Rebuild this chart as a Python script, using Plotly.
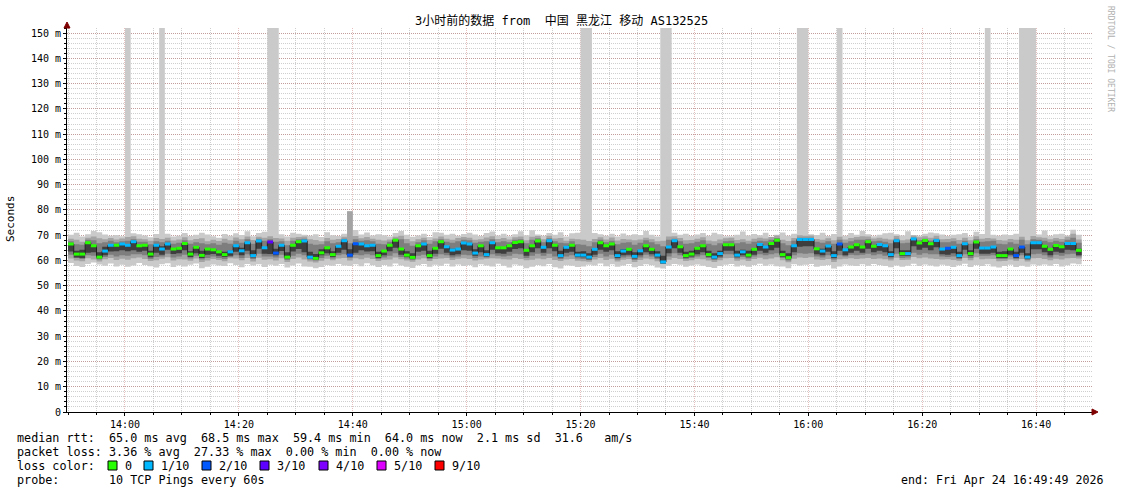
import plotly.graph_objects as go
from datetime import datetime, timedelta

# ---------------- data (one value per 60 s step, starting 13:50) ----------------
median = [
    66.5, 62.5, 62.5, 67.0, 65.8, 61.3, 63.7, 66.0, 66.0, 66.5,
    66.0, 67.4, 65.8, 66.0, 62.5, 66.0, 64.5, 66.5, 64.5, 64.8,
    66.7, 62.5, 65.2, 62.0, 64.5, 64.2, 63.4, 62.3, 63.4, 65.8,
    63.8, 67.0, 61.9, 67.7, 65.0, 67.3, 62.9, 66.0, 61.3, 66.0,
    67.4, 67.7, 61.3, 60.8, 63.0, 65.0, 62.3, 65.6, 67.8, 62.1,
    66.6, 66.5, 65.8, 66.0, 61.9, 63.7, 66.0, 68.0, 64.5, 62.1,
    61.2, 65.8, 66.5, 61.9, 64.8, 67.4, 65.4, 64.1, 64.5, 66.9,
    66.5, 62.9, 65.8, 62.3, 67.0, 65.0, 65.0, 65.8, 67.1, 67.4,
    64.0, 65.8, 67.7, 65.2, 67.8, 66.0, 61.9, 65.2, 66.0, 62.1,
    62.1, 61.3, 64.4, 67.0, 65.8, 66.5, 61.9, 63.7, 64.4, 61.6,
    63.8, 65.8, 64.4, 62.1, 59.4, 65.3, 67.8, 65.4, 61.9, 62.5,
    64.8, 65.8, 62.3, 61.3, 62.7, 66.2, 66.2, 62.1, 63.4, 62.1,
    64.4, 66.3, 65.3, 66.7, 68.0, 62.3, 61.1, 65.8, 68.3, 68.3,
    68.3, 64.6, 63.7, 65.7, 61.9, 66.5, 64.2, 65.3, 66.2, 65.3,
    67.4, 65.6, 66.3, 65.8, 62.3, 67.8, 62.7, 62.7, 68.5, 66.9,
    67.9, 66.6, 67.9, 64.5, 64.8, 65.2, 61.9, 66.6, 62.7, 67.3,
    64.9, 64.9, 65.3, 61.9, 61.9, 64.5, 61.9, 65.3, 61.3, 67.0,
    67.0, 65.6, 64.4, 65.9, 65.4, 66.7, 66.7, 64.0,
]

# lost pings out of 10 per step
loss = [
    0, 0, 0, 0, 0, 0, 1, 1, 0, 1,
    1, 1, 0, 0, 0, 1, 1, 1, 0, 0,
    0, 0, 0, 0, 0, 0, 0, 0, 1, 1,
    1, 1, 1, 1, 1, 3, 2, 1, 0, 0,
    0, 1, 1, 0, 0, 0, 0, 1, 1, 2,
    2, 1, 1, 1, 0, 0, 0, 0, 0, 0,
    0, 0, 1, 0, 0, 0, 1, 1, 1, 1,
    1, 1, 0, 1, 1, 0, 0, 0, 0, 0,
    0, 0, 0, 1, 1, 0, 1, 1, 0, 1,
    1, 1, 1, 0, 0, 0, 1, 1, 0, 1,
    1, 0, 0, 1, 1, 1, 1, 0, 0, 0,
    0, 0, 0, 1, 1, 0, 0, 1, 1, 0,
    0, 1, 1, 0, 0, 0, 0, 1, 1, 1,
    1, 0, 1, 1, 1, 2, 1, 0, 0, 0,
    0, 0, 1, 1, 1, 1, 0, 1, 1, 0,
    0, 0, 1, 1, 2, 1, 1, 1, 0, 0,
    1, 1, 1, 0, 0, 0, 2, 2, 1, 1,
    1, 0, 0, 0, 0, 1, 1, 0,
]

# smoke: slowest / fastest ping (300 = far above the chart)
ping_max = [
    70.2, 71.0, 69.5, 70.4, 71.6, 71.2, 70.3, 69.8, 70.1, 69.6,
    300, 70.8, 70.4, 69.9, 69.2, 70.5, 300, 70.6, 69.5, 69.8,
    70.9, 69.7, 70.2, 71.0, 70.3, 69.6, 69.0, 70.5, 69.8, 70.8,
    70.1, 71.5, 69.6, 70.9, 71.3, 300, 300, 70.4, 69.5, 71.0,
    70.6, 70.2, 69.8, 70.4, 69.3, 71.2, 70.0, 69.7, 70.6, 79.5,
    72.0, 70.3, 71.1, 69.9, 70.4, 70.0, 69.5, 70.9, 71.6, 70.2,
    69.4, 69.9, 70.6, 69.3, 71.2, 71.0, 70.2, 70.6, 69.8, 70.5,
    71.0, 70.3, 69.7, 70.9, 71.4, 69.9, 70.6, 69.6, 70.4, 71.5,
    70.0, 71.9, 70.3, 69.8, 70.9, 70.2, 71.2, 69.5, 70.8, 71.0,
    300, 300, 70.9, 70.4, 69.8, 70.6, 69.5, 70.7, 69.9, 70.4,
    70.1, 71.6, 70.2, 69.5, 300, 300, 71.0, 70.2, 70.6, 69.7,
    70.3, 70.9, 69.8, 71.0, 70.4, 69.6, 69.6, 70.2, 71.4, 69.9,
    70.5, 70.0, 71.0, 69.4, 70.2, 71.1, 69.8, 70.6, 300, 300,
    70.4, 70.1, 71.0, 69.7, 70.5, 300, 69.8, 70.9, 70.2, 71.6,
    70.4, 69.6, 70.2, 70.8, 71.0, 70.4, 69.9, 71.5, 70.1, 69.8,
    70.6, 71.1, 70.8, 70.3, 69.7, 70.2, 70.4, 70.9, 69.5, 71.3,
    70.5, 300, 70.2, 69.8, 70.3, 70.1, 70.6, 300, 300, 300,
    70.3, 71.8, 69.8, 70.4, 70.6, 69.9, 72.1, 70.2,
]
ping_min = [
    59.0, 57.8, 57.4, 58.6, 59.2, 58.4, 57.9, 58.8, 57.6, 58.3,
    57.5, 58.0, 59.0, 58.2, 57.7, 57.2, 58.5, 58.9, 57.4, 58.1,
    57.6, 58.3, 58.8, 56.9, 57.5, 58.4, 58.0, 57.8, 58.9, 58.2,
    57.3, 58.6, 58.0, 58.5, 57.4, 58.3, 57.9, 58.6, 57.2, 58.0,
    58.8, 57.6, 57.5, 56.9, 57.4, 58.2, 57.9, 58.6, 58.0, 57.8,
    58.5, 57.7, 58.9, 58.1, 57.4, 58.2, 57.6, 58.8, 58.0, 57.5,
    57.0, 58.1, 58.6, 57.5, 58.3, 57.9, 58.7, 57.6, 58.4, 57.8,
    58.2, 57.3, 58.5, 58.0, 57.6, 58.7, 57.9, 57.2, 58.4, 58.0,
    56.9, 57.5, 58.2, 57.7, 58.6, 57.3, 56.8, 58.1, 57.9, 57.4,
    57.6, 58.3, 58.0, 58.8, 57.7, 58.5, 57.5, 58.0, 58.6, 57.3,
    57.8, 58.5, 58.1, 57.2, 56.8, 57.9, 58.6, 58.3, 57.5, 58.0,
    58.4, 57.9, 57.4, 57.0, 57.8, 58.3, 58.6, 57.6, 58.1, 57.5,
    58.2, 58.7, 57.9, 58.4, 57.7, 57.6, 56.9, 58.5, 58.0, 58.3,
    58.6, 57.5, 57.9, 58.2, 56.8, 57.6, 58.4, 58.0, 57.8, 58.5,
    57.9, 58.6, 58.2, 57.8, 57.3, 58.0, 57.5, 57.9, 58.7, 57.8,
    58.4, 58.0, 57.6, 58.3, 57.9, 57.4, 58.1, 58.7, 57.4, 58.2,
    57.8, 58.5, 57.6, 57.2, 57.8, 58.3, 57.4, 57.9, 57.5, 58.4,
    58.0, 58.4, 57.9, 58.6, 57.6, 58.1, 58.8, 58.5,
]
# 2nd fastest / 2nd slowest
p2_hi = [
    68.6, 68.2, 67.4, 69.0, 69.5, 68.8, 68.4, 68.9, 68.3, 68.7,
    69.3, 69.6, 68.6, 68.4, 67.8, 68.9, 68.5, 69.0, 67.9, 68.3,
    69.2, 68.0, 68.5, 68.8, 67.6, 68.2, 67.7, 68.6, 68.0, 69.1,
    68.4, 69.5, 68.1, 69.4, 69.0, 69.6, 68.9, 68.7, 67.8, 69.0,
    69.3, 69.5, 68.4, 68.1, 67.6, 68.9, 68.2, 68.5, 69.4, 79.5,
    69.7, 68.8, 69.3, 68.6, 68.2, 67.9, 68.3, 69.4, 69.8, 68.5,
    67.6, 68.4, 69.0, 68.1, 68.7, 69.5, 68.6, 68.2, 68.9, 69.3,
    69.0, 68.2, 68.4, 69.1, 69.6, 68.5, 68.9, 68.3, 69.2, 69.5,
    68.0, 69.4, 69.7, 68.4, 69.8, 68.7, 68.9, 67.8, 68.6, 68.4,
    68.2, 67.7, 68.5, 69.2, 68.3, 69.1, 67.9, 68.5, 68.3, 68.0,
    68.3, 69.0, 68.4, 67.6, 67.8, 69.5, 69.6, 68.9, 68.0, 68.1,
    68.6, 69.2, 67.9, 67.6, 68.3, 68.8, 69.0, 68.1, 68.4, 67.8,
    68.6, 69.0, 68.7, 69.3, 69.9, 68.2, 67.7, 68.9, 70.0, 69.8,
    69.9, 68.5, 68.2, 68.8, 68.0, 69.4, 68.3, 68.9, 69.3, 69.6,
    69.5, 68.7, 69.0, 68.6, 68.3, 69.7, 68.0, 68.3, 69.9, 69.2,
    69.6, 69.0, 69.8, 68.4, 68.5, 68.8, 68.1, 69.0, 68.0, 69.6,
    68.6, 68.9, 68.7, 68.1, 67.9, 68.5, 68.2, 69.4, 68.0, 69.7,
    69.2, 69.0, 68.4, 68.9, 68.5, 69.4, 70.6, 68.3,
]
p2_lo = [
    60.8, 60.0, 59.7, 60.9, 60.4, 59.6, 60.5, 61.0, 60.2, 60.7,
    60.3, 60.9, 61.2, 60.6, 59.8, 60.1, 60.7, 61.3, 60.0, 60.5,
    60.4, 59.9, 60.8, 59.4, 60.0, 60.6, 60.2, 59.7, 60.9, 60.8,
    60.1, 61.0, 59.6, 61.1, 60.3, 60.5, 60.0, 60.9, 59.4, 60.6,
    61.2, 60.4, 59.6, 59.2, 59.9, 60.7, 60.1, 60.8, 61.0, 60.0,
    60.9, 60.5, 61.1, 60.6, 59.8, 60.3, 60.4, 61.2, 60.5, 60.0,
    59.5, 60.4, 60.9, 59.8, 60.6, 60.8, 61.0, 60.2, 60.7, 60.9,
    60.6, 60.0, 60.4, 60.7, 60.9, 60.8, 60.5, 60.4, 61.0, 60.6,
    60.1, 60.3, 60.8, 60.5, 61.0, 60.2, 59.8, 60.4, 60.6, 59.9,
    59.7, 59.5, 60.4, 61.0, 60.2, 60.7, 59.6, 60.3, 60.6, 59.4,
    60.2, 60.8, 60.5, 59.7, 58.6, 60.3, 61.0, 60.6, 59.8, 60.1,
    60.7, 60.5, 60.0, 59.4, 60.1, 60.9, 61.0, 59.9, 60.4, 59.8,
    60.6, 61.1, 60.5, 60.8, 61.3, 60.1, 59.3, 60.7, 61.2, 61.0,
    61.3, 60.4, 60.2, 60.6, 59.4, 60.5, 60.7, 60.9, 60.6, 60.8,
    61.0, 60.6, 60.8, 60.5, 60.0, 61.1, 60.2, 60.3, 61.4, 60.9,
    61.2, 60.8, 60.6, 60.4, 60.5, 60.2, 59.9, 61.0, 60.1, 61.3,
    60.5, 60.7, 60.6, 59.7, 59.8, 60.4, 59.9, 60.6, 59.6, 60.9,
    61.0, 60.6, 60.1, 60.7, 60.4, 60.9, 61.0, 60.8,
]
# 3rd fastest / 3rd slowest
p3_hi = [
    67.6, 66.4, 66.2, 68.2, 68.0, 66.8, 67.2, 67.8, 67.2, 67.6,
    67.8, 68.4, 67.4, 67.4, 66.4, 67.6, 67.2, 67.8, 66.6, 67.0,
    68.0, 66.6, 67.2, 66.8, 66.4, 66.8, 66.2, 67.0, 66.6, 67.8,
    67.0, 68.4, 66.6, 68.6, 67.8, 68.4, 67.4, 67.6, 66.0, 67.8,
    68.4, 68.6, 66.6, 66.2, 66.4, 67.6, 66.8, 67.2, 68.6, 66.8,
    68.4, 67.8, 68.0, 67.6, 66.6, 66.4, 67.4, 68.6, 68.4, 66.8,
    65.8, 67.2, 68.0, 66.6, 67.6, 68.4, 67.4, 67.0, 67.6, 68.2,
    68.0, 67.0, 67.4, 67.6, 68.4, 67.2, 67.6, 67.2, 68.2, 68.4,
    66.8, 68.2, 68.8, 67.2, 68.8, 67.6, 67.0, 66.8, 67.6, 66.4,
    66.2, 65.6, 67.2, 68.2, 67.2, 67.8, 66.4, 67.0, 67.2, 66.2,
    67.0, 68.0, 67.2, 66.4, 65.6, 68.2, 68.6, 67.6, 66.6, 66.8,
    67.4, 68.0, 66.6, 66.0, 66.8, 67.6, 67.8, 66.8, 67.2, 66.6,
    67.4, 67.8, 67.6, 68.2, 68.9, 66.8, 66.0, 67.8, 69.0, 69.0,
    69.0, 67.4, 67.0, 67.6, 66.6, 68.2, 67.0, 67.6, 68.2, 68.2,
    68.4, 67.6, 67.8, 67.4, 66.8, 68.6, 66.8, 67.0, 69.0, 68.0,
    68.6, 67.8, 68.6, 67.2, 67.2, 67.6, 66.6, 67.8, 66.6, 68.4,
    67.4, 67.6, 67.8, 66.6, 66.4, 67.2, 66.6, 68.2, 66.4, 68.4,
    68.2, 67.8, 67.2, 67.8, 67.4, 68.2, 69.0, 67.0,
]
p3_lo = [
    62.2, 61.0, 60.6, 62.0, 61.8, 60.4, 61.4, 62.2, 61.6, 62.0,
    61.8, 62.4, 62.4, 62.0, 60.6, 61.4, 61.6, 62.6, 61.2, 61.6,
    62.2, 60.8, 61.8, 60.4, 61.0, 61.6, 61.0, 60.6, 61.4, 62.0,
    61.0, 62.4, 60.6, 62.6, 61.6, 61.6, 61.2, 62.2, 60.2, 61.8,
    62.6, 62.0, 60.4, 60.0, 61.0, 61.8, 60.8, 62.0, 62.4, 61.0,
    62.2, 62.0, 62.4, 62.0, 60.6, 61.2, 61.8, 62.8, 61.4, 60.8,
    60.2, 61.8, 62.2, 60.6, 61.6, 62.4, 62.0, 61.2, 61.6, 62.2,
    62.0, 61.0, 61.6, 61.2, 62.4, 61.8, 61.6, 61.8, 62.6, 62.4,
    61.0, 61.8, 62.6, 61.8, 62.6, 61.6, 60.6, 61.6, 62.0, 60.8,
    60.6, 60.2, 61.4, 62.6, 61.6, 62.2, 60.4, 61.2, 61.6, 60.2,
    61.2, 62.2, 61.6, 60.6, 58.8, 61.6, 62.8, 62.0, 60.6, 61.0,
    61.6, 62.0, 61.0, 60.2, 61.0, 62.4, 62.4, 60.8, 61.4, 60.8,
    61.6, 62.4, 62.0, 62.4, 62.8, 61.0, 60.0, 62.0, 62.8, 62.6,
    62.8, 61.6, 61.2, 62.0, 60.4, 62.0, 61.6, 62.2, 62.0, 62.2,
    62.6, 62.0, 62.4, 61.8, 60.8, 62.6, 61.0, 61.2, 63.0, 62.2,
    62.8, 62.4, 62.4, 61.6, 61.4, 61.6, 60.6, 62.4, 61.0, 62.8,
    61.8, 61.8, 62.0, 60.6, 60.6, 61.6, 60.6, 62.0, 60.2, 62.4,
    62.6, 62.0, 61.2, 62.2, 61.8, 62.4, 62.6, 61.6,
]
# innermost pings (darkest smoke)
core_lo = [
    63.5, 61.2, 61.0, 63.0, 63.2, 60.8, 62.0, 63.5, 63.6, 64.0,
    63.6, 64.0, 63.4, 63.8, 61.3, 63.0, 62.2, 64.2, 62.5, 62.8,
    64.0, 61.4, 62.8, 61.0, 62.2, 62.5, 61.8, 61.4, 61.8, 63.4,
    62.0, 63.8, 61.2, 64.6, 62.6, 62.5, 62.0, 63.7, 60.8, 63.5,
    64.5, 63.2, 60.8, 60.2, 62.0, 62.8, 61.4, 63.0, 64.2, 61.5,
    63.0, 64.0, 63.5, 63.6, 61.0, 62.0, 63.6, 65.0, 62.2, 61.4,
    60.6, 63.4, 63.8, 61.0, 62.6, 64.6, 63.0, 62.0, 62.4, 64.0,
    63.8, 61.8, 63.2, 61.6, 64.2, 62.8, 62.6, 63.4, 64.5, 64.8,
    61.8, 63.2, 64.8, 63.0, 64.8, 63.6, 61.2, 63.0, 63.4, 61.4,
    61.3, 60.5, 62.2, 64.2, 63.4, 64.0, 61.0, 62.0, 62.2, 60.8,
    62.0, 63.2, 62.4, 61.2, 58.8, 62.8, 64.8, 63.0, 61.1, 61.6,
    62.4, 63.2, 61.5, 60.6, 61.6, 63.8, 63.8, 61.3, 62.0, 61.3,
    62.2, 63.8, 63.0, 64.0, 65.0, 61.5, 60.5, 63.2, 65.4, 65.6,
    65.6, 62.4, 62.0, 63.4, 61.0, 63.8, 62.0, 63.0, 63.8, 63.0,
    64.6, 63.2, 63.8, 63.2, 61.4, 64.8, 61.8, 61.8, 65.6, 64.2,
    65.0, 64.0, 65.2, 62.4, 62.2, 62.8, 61.1, 64.2, 61.8, 64.6,
    62.6, 62.6, 63.0, 61.0, 61.0, 62.2, 61.0, 63.0, 60.6, 64.4,
    64.4, 63.2, 62.0, 63.4, 63.0, 64.2, 64.0, 62.0,
]
core_hi = [
    66.5, 63.8, 64.2, 67.0, 65.8, 63.2, 65.4, 66.0, 66.0, 66.5,
    66.0, 67.4, 65.8, 66.0, 63.8, 66.0, 65.6, 66.5, 64.5, 65.0,
    66.7, 63.6, 65.2, 63.8, 64.5, 64.2, 63.6, 63.4, 63.8, 65.8,
    65.0, 67.0, 64.0, 67.7, 65.0, 67.3, 64.6, 66.0, 63.2, 66.0,
    67.4, 67.7, 63.4, 62.5, 64.4, 65.0, 63.6, 65.6, 67.8, 64.4,
    66.6, 66.5, 65.8, 66.0, 63.4, 63.7, 66.0, 68.0, 64.5, 63.6,
    62.8, 65.8, 66.5, 63.8, 64.8, 67.4, 65.4, 64.6, 64.5, 66.9,
    66.5, 64.4, 65.8, 64.0, 67.0, 65.0, 65.0, 65.8, 67.1, 67.4,
    64.0, 65.8, 67.7, 65.2, 67.8, 66.0, 63.8, 65.2, 66.0, 63.4,
    63.6, 62.8, 64.4, 67.0, 65.8, 66.5, 63.6, 64.4, 64.4, 63.2,
    64.0, 65.8, 64.4, 63.6, 61.8, 65.3, 67.8, 65.4, 63.4, 63.8,
    64.8, 65.8, 63.8, 62.8, 63.8, 66.2, 66.2, 63.8, 64.2, 63.8,
    64.4, 66.3, 65.3, 66.7, 68.0, 63.8, 62.8, 65.8, 68.3, 68.3,
    68.3, 64.6, 64.6, 65.7, 63.6, 66.5, 64.2, 65.3, 66.2, 65.3,
    67.4, 65.6, 66.3, 65.8, 63.6, 67.8, 64.0, 64.0, 68.5, 66.9,
    67.9, 66.6, 67.9, 64.5, 64.8, 65.2, 63.4, 66.6, 64.0, 67.3,
    64.9, 64.9, 65.3, 63.4, 63.6, 64.5, 63.4, 65.3, 62.8, 67.0,
    67.0, 65.6, 64.4, 65.9, 65.4, 66.7, 66.7, 64.6,
]

y_tick_vals = [0, 10, 20, 30, 40, 50, 60, 70, 80, 90, 100, 110, 120, 130, 140, 150]
y_tick_text = ["0", "10 m", "20 m", "30 m", "40 m", "50 m", "60 m", "70 m", "80 m",
               "90 m", "100 m", "110 m", "120 m", "130 m", "140 m", "150 m"]

loss_levels = [0, 1, 2, 3, 4, 5, 9]
loss_labels = ["0", "1/10", "2/10", "3/10", "4/10", "5/10", "9/10"]
loss_colors = ["#26ff00", "#00b8ff", "#0059ff", "#5e00ff", "#7e00ff", "#dd00ff", "#ff0000"]

title_text = "3小时前的数据 from  中国 黑龙江 移动 AS132525"
line_rtt = "median rtt:  65.0 ms avg  68.5 ms max  59.4 ms min  64.0 ms now  2.1 ms sd  31.6   am/s"
line_loss = "packet loss: 3.36 % avg  27.33 % max  0.00 % min  0.00 % now"
line_probe = "probe:       10 TCP Pings every 60s"
line_end = "end: Fri Apr 24 16:49:49 2026"

# ---------------- figure ----------------
start = datetime(2026, 4, 24, 13, 50, 0)
n = len(median)
edges = [start + timedelta(minutes=i) for i in range(n + 1)]


def stepped(v):
    return list(v) + [v[-1]]


fig = go.Figure()

layers = [
    (ping_min, ping_max, "#cacaca"),
    (p2_lo, p2_hi, "#a4a4a4"),
    (p3_lo, p3_hi, "#7e7e7e"),
    (core_lo, core_hi, "#3e3e3e"),
]
for lo, hi, col in layers:
    fig.add_trace(go.Scatter(x=edges, y=stepped(lo), mode="lines",
                             line=dict(width=0, shape="hv"),
                             hoverinfo="skip", showlegend=False))
    fig.add_trace(go.Scatter(x=edges, y=stepped(hi), mode="lines",
                             line=dict(width=0, shape="hv"), fill="tonexty",
                             fillcolor=col, hoverinfo="skip", showlegend=False))

fig.add_trace(go.Scatter(x=edges, y=stepped(median), mode="lines",
                         line=dict(width=1, color="#202020", shape="hv"),
                         hoverinfo="skip", showlegend=False))

for lvl, col in zip(loss_levels, loss_colors):
    xs, ys = [], []
    for i, (m, l) in enumerate(zip(median, loss)):
        if l == lvl:
            xs += [edges[i], edges[i + 1], None]
            ys += [m, m, None]
    if xs:
        fig.add_trace(go.Scatter(x=xs, y=ys, mode="lines",
                                 line=dict(width=3, color=col),
                                 hoverinfo="skip", showlegend=False))

# plot area in pixels
L, R, T, B = 67, 1092, 28, 412
W, H = R - L, B - T


def px(x):
    return (x - L) / W


def py(y):
    return (B - y) / H


MONO = "DejaVu Sans Mono"
MGRID = "rgba(170,40,40,0.30)"
GRID = "rgba(140,140,140,0.42)"
LEG = 11.75

fig.update_layout(
    width=1121, height=494,
    margin=dict(l=L, r=1121 - R, t=T, b=494 - B, pad=0),
    paper_bgcolor="white", plot_bgcolor="white",
    showlegend=False,
    font=dict(family=MONO, color="black", size=10),
)

fig.update_xaxes(
    type="date",
    range=[datetime(2026, 4, 24, 13, 49, 49), datetime(2026, 4, 24, 16, 49, 49)],
    tick0="2026-04-24 14:00:00", dtick=20 * 60 * 1000, tickformat="%H:%M",
    tickfont=dict(family=MONO, size=10, color="black"),
    showgrid=True, gridcolor=MGRID, gridwidth=1, griddash="1px,1px",
    minor=dict(tick0="2026-04-24 14:00:00", dtick=5 * 60 * 1000, showgrid=True,
               gridcolor=GRID, gridwidth=1, griddash="1px,1px",
               ticks="outside", ticklen=2, tickcolor="black"),
    ticks="outside", ticklen=3, tickcolor="black",
    showline=True, linecolor="black", linewidth=1,
    zeroline=False, fixedrange=True,
)
fig.update_yaxes(
    range=[0, 152],
    tickmode="array", tickvals=y_tick_vals, ticktext=y_tick_text,
    tickfont=dict(family=MONO, size=10, color="black"),
    showgrid=True, gridcolor=MGRID, gridwidth=1, griddash="1px,1px",
    minor=dict(tickmode="linear", tick0=0, dtick=2, showgrid=True,
               gridcolor=GRID, gridwidth=1, griddash="1px,1px",
               ticks="outside", ticklen=2, tickcolor="black"),
    ticks="outside", ticklen=3, tickcolor="black",
    showline=True, linecolor="black", linewidth=1,
    zeroline=False, fixedrange=True,
)

ann = []
ann.append(dict(text=title_text, x=px(561), y=py(21), xref="paper", yref="paper",
                xanchor="center", yanchor="middle", showarrow=False,
                font=dict(family=MONO + ", Noto Sans CJK SC", size=12, color="black")))
ann.append(dict(text="Seconds", x=px(10), y=py(219), xref="paper", yref="paper",
                xanchor="center", yanchor="middle", showarrow=False, textangle=-90,
                font=dict(family=MONO, size=11, color="black")))
ann.append(dict(text="RRDTOOL / TOBI OETIKER", x=px(1110), y=py(59), xref="paper", yref="paper",
                xanchor="center", yanchor="middle", showarrow=False, textangle=90,
                font=dict(family=MONO, size=8, color="#b0b0b0")))
for txt, yy in [(line_rtt, 438), (line_loss, 452), ("loss color:", 466), (line_probe, 480)]:
    ann.append(dict(text=txt.replace(" ", "&nbsp;"), x=px(15), y=py(yy), xref="paper", yref="paper",
                    xanchor="left", yanchor="middle", showarrow=False,
                    font=dict(family=MONO, size=LEG, color="black")))
ann.append(dict(text=line_end.replace(" ", "&nbsp;"), x=px(1105), y=py(480), xref="paper", yref="paper",
                xanchor="right", yanchor="middle", showarrow=False,
                font=dict(family=MONO, size=11.6, color="black")))

box_x = [108, 144, 202, 260, 319, 377, 435]
shapes = []
for bx, lab, col in zip(box_x, loss_labels, loss_colors):
    shapes.append(dict(type="rect", xref="paper", yref="paper",
                       x0=px(bx), x1=px(bx + 9), y0=py(470), y1=py(461),
                       fillcolor=col, line=dict(color="black", width=1), layer="above"))
    ann.append(dict(text=lab, x=px(bx + 15), y=py(466), xref="paper", yref="paper",
                    xanchor="left", yanchor="middle", showarrow=False,
                    font=dict(family=MONO, size=LEG, color="black")))

# axis arrows
shapes.append(dict(type="path", xref="paper", yref="paper", xsizemode="pixel", ysizemode="pixel",
                   xanchor=0, yanchor=1, path="M -3,0 L 3,0 L 0,6 Z",
                   fillcolor="#7f0000", line=dict(color="#7f0000", width=1)))
shapes.append(dict(type="path", xref="paper", yref="paper", xsizemode="pixel", ysizemode="pixel",
                   xanchor=1, yanchor=0, path="M 0,-3 L 0,3 L 6,0 Z",
                   fillcolor="#7f0000", line=dict(color="#7f0000", width=1)))

fig.update_layout(annotations=ann, shapes=shapes)

fig.write_html(
    "out.html",
    config={"displayModeBar": False, "staticPlot": True},
    post_script="document.body.style.margin='0';document.body.style.padding='0';"
                "document.documentElement.style.overflow='hidden';",
)
